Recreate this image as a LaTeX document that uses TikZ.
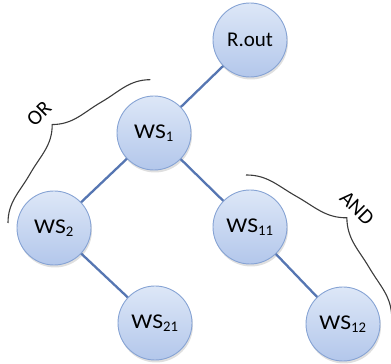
\documentclass[tikz,border=0pt]{standalone}
\usepackage{fontspec}
\setmainfont{Carlito}
\usetikzlibrary{shadows}
\definecolor{edgeblue}{HTML}{5676B2}
\definecolor{rimblue}{HTML}{86A3D4}
\definecolor{fillTop}{HTML}{DDE7F7}
\definecolor{fillBot}{HTML}{B3C7EB}
\definecolor{bracegray}{HTML}{3C3C3C}
\newcommand\wsn[1]{\scalebox{1.12}[1]{WS}\textsubscript{#1}}
\tikzset{
  ws/.style={circle, minimum size=74pt, inner sep=0pt, draw=rimblue, line width=0.9pt,
    top color=fillTop, bottom color=fillBot,
    drop shadow={opacity=0.25, shadow xshift=1pt, shadow yshift=-2.5pt},
    font=\fontsize{21}{25}\selectfont, text=black},
  edge/.style={draw=edgeblue, line width=2.3pt},
  bracepath/.style={draw=bracegray, line width=1.1pt},
  lbl/.style={font=\fontsize{21}{25}\selectfont, text=black, inner sep=0pt}
}
\begin{document}
\begin{tikzpicture}[x=1pt,y=1pt]
\useasboundingbox (0,0) rectangle (391,364);
% braces
\begin{scope}[shift={(8,141)}, rotate=45.2]
  \draw[bracepath] (0,0) to[out=45,in=195] (50.5,19) to[out=15,in=225] (101,38)
     to[out=-45,in=165] (151.5,19) to[out=-15,in=135] (202,0);
\end{scope}
\begin{scope}[shift={(246,189)}, rotate=-44.4]
  \draw[bracepath] (0,0) to[out=45,in=195] (51,20) to[out=15,in=225] (102,40)
     to[out=-45,in=165] (153,20) to[out=-15,in=135] (204,0);
\end{scope}
\node[lbl, rotate=45] (or) at (39,250) {OR};
\node[lbl, rotate=-45] (and) at (357,156) {AND};
% nodes
\node[ws] (rout) at (250,324) {R.out};
\node[ws] (ws1) at (154,231) {\wsn{1}};
\node[ws] (ws2) at (54,136) {\wsn{2}};
\node[ws] (ws11) at (250,137) {\wsn{11}};
\node[ws] (ws21) at (155,41) {\wsn{21}};
\node[ws] (ws12) at (343,40) {\wsn{12}};
% edges
\draw[edge] (rout) -- (ws1);
\draw[edge] (ws1) -- (ws2);
\draw[edge] (ws1) -- (ws11);
\draw[edge] (ws2) -- (ws21);
\draw[edge] (ws11) -- (ws12);
\end{tikzpicture}
\end{document}
